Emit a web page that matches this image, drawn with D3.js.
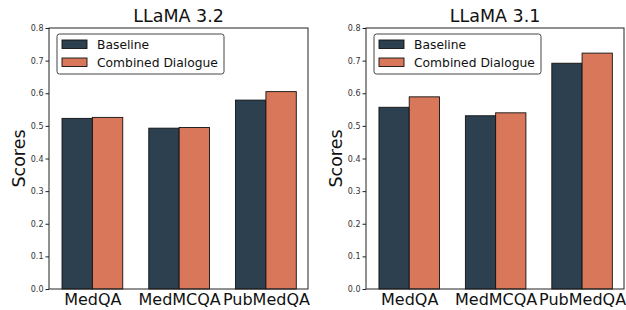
<!DOCTYPE html>
<html>
<head>
<meta charset="utf-8">
<script src="https://cdn.jsdelivr.net/npm/d3@7"></script>
<style>
  body { margin: 0; background: #fff; }
  svg { display: block; font-family: 'DejaVu Sans', sans-serif; }
</style>
</head>
<body>
<svg id="chart" width="626" height="310"></svg>
<script>
// data
var datasets = ['MedQA', 'MedMCQA', 'PubMedQA']
var seriesNames = ['Baseline', 'Combined Dialogue']
var llama32Baseline = [0.523, 0.493, 0.579]
var llama32Combined = [0.526, 0.495, 0.605]
var llama31Baseline = [0.557, 0.531, 0.692]
var llama31Combined = [0.589, 0.540, 0.723]
var yTicks = [0.0, 0.1, 0.2, 0.3, 0.4, 0.5, 0.6, 0.7, 0.8]
var colors = ['#2c4050', '#d9775b']

var svg = d3.select('#chart')

function drawPanel (opts) {
  var left = opts.left
  var right = opts.right
  var top = 28
  var bottom = 289
  var g = svg.append('g')

  // bars at integer positions, width 0.35
  var x = d3.scaleLinear().domain([-0.5, 2.485]).range([left, right])
  var y = d3.scaleLinear().domain([0, 0.8]).range([bottom, top])
  var bw = 0.35

  var series = [opts.baseline, opts.combined]
  series.forEach(function (vals, si) {
    g.selectAll('rect.s' + si)
      .data(vals)
      .enter().append('rect')
      .attr('class', 's' + si)
      .attr('x', function (d, i) { return x(i + (si === 0 ? -bw : 0)) })
      .attr('width', x(bw) - x(0))
      .attr('y', function (d) { return y(d) })
      .attr('height', function (d) { return y(0) - y(d) })
      .attr('fill', colors[si])
      .attr('stroke', '#111')
      .attr('stroke-width', 0.9)
  })

  // frame
  g.append('rect')
    .attr('x', left).attr('y', top)
    .attr('width', right - left).attr('height', bottom - top)
    .attr('fill', 'none').attr('stroke', '#222').attr('stroke-width', 1)

  // y axis
  var yAxis = d3.axisLeft(y).tickValues(yTicks).tickFormat(d3.format('.1f'))
    .tickSize(3.5).tickPadding(2)
  var ya = g.append('g').attr('transform', 'translate(' + left + ',0)').call(yAxis)
  ya.select('.domain').remove()
  ya.selectAll('text').attr('font-size', '8px').attr('fill', '#333')
    .attr('font-family', 'DejaVu Sans')
  ya.selectAll('line').attr('stroke', '#222')

  // x axis labels
  var xAxis = d3.axisBottom(x).tickValues([0, 1, 2])
    .tickFormat(function (d) { return datasets[d] }).tickSize(0).tickPadding(5)
  var xa = g.append('g').attr('transform', 'translate(0,' + bottom + ')').call(xAxis)
  xa.select('.domain').remove()
  xa.selectAll('text').attr('font-size', '16px').attr('fill', '#111')
    .attr('font-family', 'DejaVu Sans')

  // title
  g.append('text')
    .attr('x', (left + right) / 2).attr('y', 22)
    .attr('text-anchor', 'middle').attr('font-size', '17.5px').attr('fill', '#111')
    .text(opts.title)

  // y label
  g.append('text')
    .attr('transform', 'translate(' + (left - 24) + ',' + ((top + bottom) / 2) + ') rotate(-90)')
    .attr('text-anchor', 'middle').attr('font-size', '17.5px').attr('fill', '#111')
    .text('Scores')

  // legend
  var lg = g.append('g').attr('transform', 'translate(' + (left + 8) + ',34)')
  lg.append('rect')
    .attr('width', 167).attr('height', 40).attr('rx', 2.5)
    .attr('fill', '#fff').attr('fill-opacity', 0.8)
    .attr('stroke', '#444').attr('stroke-width', 1)
  seriesNames.forEach(function (name, i) {
    lg.append('rect')
      .attr('x', 5).attr('y', 6 + i * 18)
      .attr('width', 25).attr('height', 8.5)
      .attr('fill', colors[i]).attr('stroke', '#111').attr('stroke-width', 0.9)
    lg.append('text')
      .attr('x', 40).attr('y', 14.5 + i * 18)
      .attr('font-size', '12.3px').attr('fill', '#111')
      .text(name)
  })
}

drawPanel({ left: 49, right: 308, title: 'LLaMA 3.2', baseline: llama32Baseline, combined: llama32Combined })
drawPanel({ left: 366, right: 624, title: 'LLaMA 3.1', baseline: llama31Baseline, combined: llama31Combined })
</script>
</body>
</html>
